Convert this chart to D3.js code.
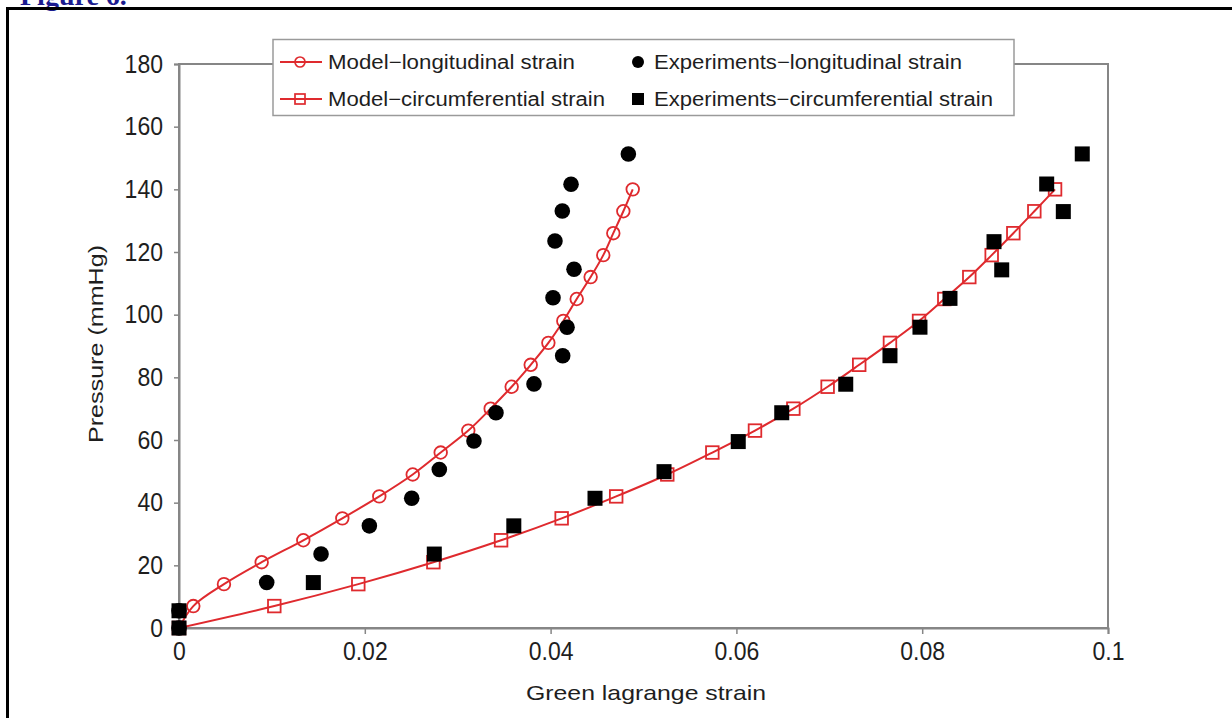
<!DOCTYPE html>
<html>
<head>
<meta charset="utf-8">
<script src="https://cdn.jsdelivr.net/npm/d3@7"></script>
<style>
  body { margin: 0; background: #fff; }
  svg text { font-family: "Liberation Sans", Arial, sans-serif; fill: #1e1e1e; }
</style>
</head>
<body>
<div id="chart"></div>
<script>

// model curves: evaluated every 7 mmHg
let modelPressure = [0, 7, 14, 21, 28, 35, 42, 49, 56, 63, 70, 77, 84, 91, 98, 105, 112, 119, 126, 133, 140];
let modelLongStrain = [0, 0.00154, 0.00484, 0.0089, 0.01338, 0.01758, 0.02156, 0.02516, 0.02817, 0.03114, 0.03355,
    0.03581, 0.03786, 0.03976, 0.04137, 0.04281, 0.04431, 0.04567, 0.04675, 0.04783, 0.04884];
let modelCircStrain = [0, 0.01026, 0.0193, 0.02738, 0.03467, 0.04119, 0.04706, 0.05256, 0.05741, 0.062, 0.06613,
    0.06982, 0.07322, 0.07653, 0.07966, 0.08238, 0.08507, 0.08748, 0.08981, 0.09207, 0.0943];

// experiments
let expLongStrain = [0, 0, 0.00944, 0.01529, 0.02049, 0.02505, 0.02802, 0.03175, 0.03412, 0.03821, 0.0413,
    0.04177, 0.04026, 0.04252, 0.04047, 0.04126, 0.0422, 0.04837];
let expLongPressure = [0, 5.5, 14.5, 23.6, 32.6, 41.4, 50.6, 59.7, 68.7, 77.9, 86.9, 96, 105.4, 114.5, 123.5, 133.1, 141.6, 151.3];
let expCircStrain = [0, 0, 0.01446, 0.02748, 0.03604, 0.04478, 0.05221, 0.0602, 0.06488, 0.07177, 0.07653,
    0.07976, 0.08299, 0.08856, 0.08773, 0.09519, 0.0934, 0.09723];
let expCircPressure = [0, 5.5, 14.5, 23.6, 32.6, 41.4, 49.9, 59.5, 68.7, 77.8, 86.9, 96, 105.2, 114.3, 123.3, 132.9, 141.7, 151.3];

let xTicks = [0, 0.02, 0.04, 0.06, 0.08, 0.1];
let yTicks = [0, 20, 40, 60, 80, 100, 120, 140, 160, 180];

let legendLabels = ["Model\u2212longitudinal strain", "Experiments\u2212longitudinal strain",
    "Model\u2212circumferential strain", "Experiments\u2212circumferential strain"];

let W = 1232, H = 718;
let red = "#df2a2e";
let axisGray = "#868686";

let svg = d3.select("#chart").append("svg")
    .attr("width", W)
    .attr("height", H);

// page frame and the caption, cut off at the top like in the scan
svg.append("text")
    .attr("x", 20).attr("y", 5)
    .style("font-family", "'Liberation Serif', 'Times New Roman', serif")
    .style("font-weight", "bold")
    .style("font-size", "28px")
    .style("fill", "#1b1b8f")
    .text("Figure 6.");
svg.append("rect")
    .attr("x", 7.5).attr("y", 8.5)
    .attr("width", W).attr("height", H)
    .attr("fill", "none")
    .attr("stroke", "#000")
    .attr("stroke-width", 3);

let x = d3.scaleLinear().domain([0, 0.1]).range([179, 1108]);
let y = d3.scaleLinear().domain([0, 180]).range([628, 64]);

// plot box
svg.append("rect")
    .attr("x", x(0)).attr("y", y(180))
    .attr("width", x(0.1) - x(0)).attr("height", y(0) - y(180))
    .attr("fill", "none")
    .attr("stroke", axisGray)
    .attr("stroke-width", 2);

let xAxis = svg.append("g")
    .attr("transform", "translate(0," + y(0) + ")")
    .call(d3.axisBottom(x).tickValues(xTicks).tickSize(6).tickPadding(8)
        .tickFormat(d => d === 0 ? "0" : d3.format("~g")(d)));
let yAxis = svg.append("g")
    .attr("transform", "translate(" + x(0) + ",0)")
    .call(d3.axisLeft(y).tickValues(yTicks).tickSize(5).tickPadding(11));

[xAxis, yAxis].forEach(function(a){
    a.select(".domain").attr("stroke", axisGray).attr("stroke-width", 2);
    a.selectAll(".tick line").attr("stroke", axisGray).attr("stroke-width", 1.5);
    a.selectAll(".tick text")
        .style("font-family", "'Liberation Sans', Arial, sans-serif")
        .style("font-size", "23px")
        .attr("fill", "#1e1e1e")
        .each(function(){
            // digits in the scan are a bit taller than wide
            let w = this.getComputedTextLength();
            d3.select(this)
                .style("font-size", "25px")
                .attr("textLength", w)
                .attr("lengthAdjust", "spacingAndGlyphs");
        });
});

// axis titles
svg.append("text")
    .attr("x", 646).attr("y", 700)
    .attr("text-anchor", "middle")
    .attr("textLength", 240)
    .attr("lengthAdjust", "spacingAndGlyphs")
    .style("font-size", "21px")
    .text("Green lagrange strain");
svg.append("text")
    .attr("transform", "translate(103,344) rotate(-90)")
    .attr("text-anchor", "middle")
    .attr("textLength", 198)
    .attr("lengthAdjust", "spacingAndGlyphs")
    .style("font-size", "21px")
    .text("Pressure (mmHg)");

// series
let modelLong = modelPressure.map((p, i) => ({s: modelLongStrain[i], p: p}));
let modelCirc = modelPressure.map((p, i) => ({s: modelCircStrain[i], p: p}));
let expLong = expLongPressure.map((p, i) => ({s: expLongStrain[i], p: p}));
let expCirc = expCircPressure.map((p, i) => ({s: expCircStrain[i], p: p}));

let line = d3.line()
    .x(d => x(d.s))
    .y(d => y(d.p))
    .curve(d3.curveCatmullRom.alpha(0.5));

[modelLong, modelCirc].forEach(function(data){
    svg.append("path")
        .datum(data)
        .attr("d", line)
        .attr("fill", "none")
        .attr("stroke", red)
        .attr("stroke-width", 2);
});

svg.append("g").selectAll("circle")
    .data(modelLong)
    .enter().append("circle")
    .attr("cx", d => x(d.s))
    .attr("cy", d => y(d.p))
    .attr("r", 6.3)
    .attr("fill", "none")
    .attr("stroke", red)
    .attr("stroke-width", 1.8);

svg.append("g").selectAll("rect")
    .data(modelCirc)
    .enter().append("rect")
    .attr("x", d => x(d.s) - 6.3)
    .attr("y", d => y(d.p) - 6.3)
    .attr("width", 12.6)
    .attr("height", 12.6)
    .attr("fill", "none")
    .attr("stroke", red)
    .attr("stroke-width", 1.8);

svg.append("g").selectAll("circle")
    .data(expLong)
    .enter().append("circle")
    .attr("cx", d => x(d.s))
    .attr("cy", d => y(d.p))
    .attr("r", 7.8)
    .attr("fill", "#000");

svg.append("g").selectAll("rect")
    .data(expCirc)
    .enter().append("rect")
    .attr("x", d => x(d.s) - 7.5)
    .attr("y", d => y(d.p) - 7.5)
    .attr("width", 15)
    .attr("height", 15)
    .attr("fill", "#000");

// legend
let legend = svg.append("g");
legend.append("rect")
    .attr("x", 273).attr("y", 39.5)
    .attr("width", 741).attr("height", 76)
    .attr("fill", "#fff")
    .attr("stroke", "#9a9a9a")
    .attr("stroke-width", 1.5);

let legRows = [62, 99];
let legCols = [328, 654];
let legLengths = [247, 308, 277, 339];

legendLabels.forEach(function(lab, i){
    let row = Math.floor(i / 2), col = i % 2;
    let cy = legRows[row];
    let g = legend.append("g");
    if (col === 0) {
        g.append("line")
            .attr("x1", 280).attr("x2", 322)
            .attr("y1", cy).attr("y2", cy)
            .attr("stroke", red).attr("stroke-width", 2);
        if (row === 0) {
            g.append("circle").attr("cx", 300).attr("cy", cy).attr("r", 5)
                .attr("fill", "none").attr("stroke", red).attr("stroke-width", 1.7);
        } else {
            g.append("rect").attr("x", 295).attr("y", cy - 5).attr("width", 10).attr("height", 10)
                .attr("fill", "none").attr("stroke", red).attr("stroke-width", 1.7);
        }
    } else {
        if (row === 0) {
            g.append("circle").attr("cx", 638).attr("cy", cy).attr("r", 6).attr("fill", "#000");
        } else {
            g.append("rect").attr("x", 632).attr("y", cy - 6).attr("width", 12).attr("height", 12).attr("fill", "#000");
        }
    }
    g.append("text")
        .attr("x", legCols[col])
        .attr("y", cy + 7)
        .attr("textLength", legLengths[i])
        .attr("lengthAdjust", "spacingAndGlyphs")
        .style("font-size", "20px")
        .text(lab);
});

</script>
</body>
</html>
